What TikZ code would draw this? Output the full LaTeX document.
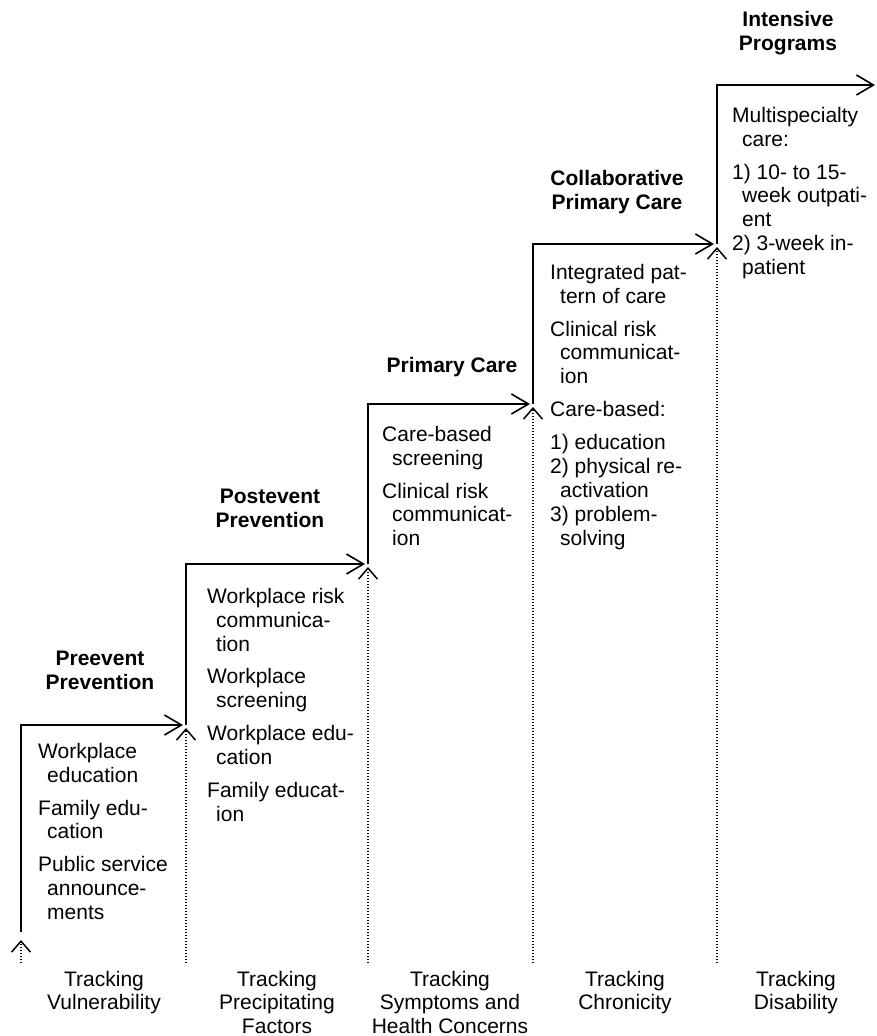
\documentclass[tikz,border=0pt]{standalone}
\usepackage{fontspec}
\setmainfont{Liberation Sans}
\usetikzlibrary{arrows.meta}
% strut that fixes the height of the first line of a text block
\newcommand\firstln{\rule{0pt}{16pt}}
\newcommand\ind{\hspace*{9pt}}
\newcommand\colind{\hspace*{10pt}}

\begin{document}
\begin{tikzpicture}[x=1pt,y=-1pt,
  stair/.style={line width=1.8pt, line join=miter,
    -{Straight Barb[length=17pt,width=20pt,line width=1.6pt]}},
  trackline/.style={line width=1.4pt, dash pattern=on 1.4pt off 1.6pt,
    -{Straight Barb[length=11pt,width=19pt,line width=1.5pt]}},
  items/.style={anchor=north west, inner sep=0pt, align=left,
    font=\fontsize{21}{23.9}\selectfont},
  stephead/.style={anchor=north, inner sep=0pt, align=center,
    font=\fontsize{21}{24.5}\selectfont\bfseries},
  tracklabel/.style={anchor=north, inner sep=0pt, align=center,
    font=\fontsize{21}{23.7}\selectfont},
]
\useasboundingbox (0,0) rectangle (876,1036);

% corners of the staircase
\coordinate (c0) at (21,932);
\coordinate (c1) at (186,725);
\coordinate (c2) at (368,564);
\coordinate (c3) at (533,404);
\coordinate (c4) at (717,244);
\coordinate (c5) at (876,85);

% feet of the tracking lines
\coordinate (f1) at (21,963);
\coordinate (f2) at (186,963);
\coordinate (f3) at (368,963);
\coordinate (f4) at (533,963);
\coordinate (f5) at (717,963);

% staircase
\draw[stair] (c0) |- ([xshift=-3pt]c1);
\draw[stair] (c1) |- ([xshift=-3pt]c2);
\draw[stair] (c2) |- ([xshift=-3pt]c3);
\draw[stair] (c3) |- ([xshift=-3pt]c4);
\draw[stair] (c4) |- ([xshift=-1pt]c5);

% tracking lines
\draw[trackline] (f1) -- ([yshift=-8pt]c0);
\draw[trackline] (f2) -- ([yshift=-3pt]c1);
\draw[trackline] (f3) -- ([yshift=-3pt]c2);
\draw[trackline] (f4) -- ([yshift=-3pt]c3);
\draw[trackline] (f5) -- ([yshift=-3pt]c4);

% step headings
\node[stephead] (h1) at (100,649) {\firstln Preevent\\Prevention};
\node[stephead] (h2) at (270,487) {\firstln Postevent\\Prevention};
\node[stephead] (h3) at (452,356) {\firstln Primary Care};
\node[stephead] (h4) at (617,169) {\firstln Collaborative\\Primary Care};
\node[stephead] (h5) at (788,10) {\firstln Intensive\\Programs};

% step contents
\node[items] (l1) at (38,742) {\firstln Workplace\\ \ind education\\[9pt]
  Family edu-\\ \ind cation\\[9pt]
  Public service\\ \ind announce-\\ \ind ments};
\node[items] (l2) at (207,587) {\firstln Workplace risk\\ \ind communica-\\ \ind tion\\[9pt]
  Workplace\\ \ind screening\\[9pt]
  Workplace edu-\\ \ind cation\\[9pt]
  Family educat-\\ \ind ion};
\node[items] (l3) at (382,425) {\firstln Care-based\\ \colind screening\\[9pt]
  Clinical risk\\ \colind communicat-\\ \colind ion};
\node[items] (l4) at (550,263) {\firstln Integrated pat-\\ \colind tern of care\\[9pt]
  Clinical risk\\ \colind communicat-\\ \colind ion\\[9pt]
  Care-based:\\[9pt]
  1) education\\2) physical re-\\ \colind activation\\3) problem-\\ \colind solving};
\node[items] (l5) at (732,106) {\firstln Multispecialty\\ \colind care:\\[9pt]
  1) 10- to 15-\\ \colind week outpati-\\ \colind ent\\
  2) 3-week in-\\ \colind patient};

% tracking labels
\node[tracklabel] (t1) at (104,970) {\firstln Tracking\\Vulnerability};
\node[tracklabel] (t2) at (277,970) {\firstln Tracking\\Precipitating\\Factors};
\node[tracklabel] (t3) at (450,970) {\firstln Tracking\\Symptoms and\\Health Concerns};
\node[tracklabel] (t4) at (625,970) {\firstln Tracking\\Chronicity};
\node[tracklabel] (t5) at (796,970) {\firstln Tracking\\Disability};
\end{tikzpicture}
\end{document}
